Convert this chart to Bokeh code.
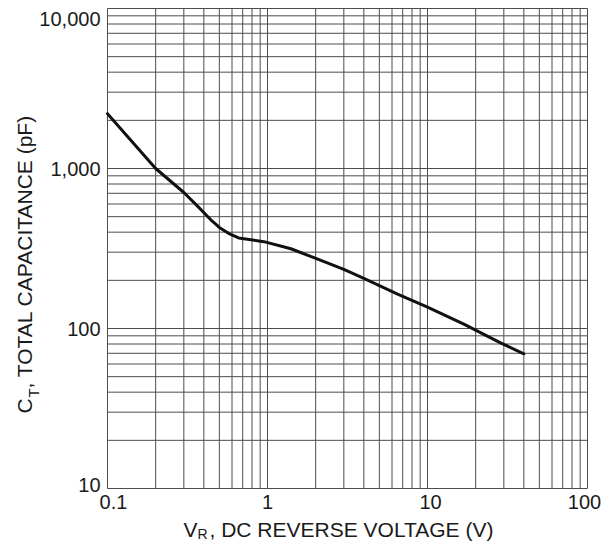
import math
from bokeh.plotting import figure
from bokeh.models import Range1d
from bokeh.core.properties import value
from bokeh.embed import file_html
from bokeh.resources import INLINE

# ---- data ----
voltage_v = [0.1, 0.2, 0.3, 0.364, 0.45, 0.5, 0.58, 0.66, 0.95, 1.4, 1.95, 3.0, 4.0, 6.5, 10, 17, 28.6, 40]
capacitance_pf = [2200, 1000, 708, 584, 470, 428, 390, 368, 349, 315, 277, 234, 206, 164, 136, 106, 81.4, 69.5]

x_tick_values = [0.1, 1, 10, 100]
x_tick_labels = ["0.1", "1", "10", "100"]
y_tick_values = [10, 100, 1000, 10000]
y_tick_labels = ["10", "100", "1,000", "10,000"]
minor_mantissas = [1, 2, 3, 4, 5, 6, 7, 8, 9]

FONT = value("Liberation Sans")
TXT = "#1a1a1a"
GRID = "#4d4d4d"

# ---- layout (pixels) ----
W, H = 614, 543
LEFT, RIGHT, TOP, BOTTOM = 107, 587, 8, 488          # chart box inside the canvas
x_lo, x_hi = x_tick_values[0], x_tick_values[-1]
y_lo, y_hi = y_tick_values[0], y_tick_values[-1]
ppd_x = (RIGHT - LEFT) / math.log10(x_hi / x_lo)      # pixels per decade
ppd_y = (BOTTOM - TOP) / math.log10(y_hi / y_lo)

x_range = Range1d(x_lo * 10 ** (-LEFT / ppd_x), x_hi * 10 ** ((W - RIGHT) / ppd_x))
y_range = Range1d(y_lo * 10 ** (-(H - BOTTOM) / ppd_y), y_hi * 10 ** (TOP / ppd_y))

p = figure(
    x_axis_type="log", y_axis_type="log",
    x_range=x_range, y_range=y_range,
    width=W, height=H, min_border=0,
    output_backend="svg", toolbar_location=None,
    background_fill_color="white", border_fill_color="white",
)
p.outline_line_color = None
p.xaxis.visible = False
p.yaxis.visible = False
p.grid.visible = False

# ---- grid lines (including the box edges) ----
grid_x = [d * m for d in x_tick_values[:-1] for m in minor_mantissas] + [x_hi]
grid_y = [d * m for d in y_tick_values[:-1] for m in minor_mantissas] + [y_hi]
p.segment(x0=grid_x, y0=[y_lo] * len(grid_x), x1=grid_x, y1=[y_hi] * len(grid_x),
          line_color=GRID, line_width=1)
p.segment(x0=[x_lo] * len(grid_y), y0=grid_y, x1=[x_hi] * len(grid_y), y1=grid_y,
          line_color=GRID, line_width=1)

# ---- curve ----
p.line(voltage_v, capacitance_pf, line_width=3, line_color="#111111",
       line_join="round", line_cap="round")

# ---- x tick labels ----
p.text(x=x_tick_values, y=[y_lo] * len(x_tick_values), text=x_tick_labels,
       x_offset=[6, 0, 3, -3], y_offset=6,
       text_align="center", text_baseline="top",
       text_font=FONT, text_font_size="20px", text_color=TXT)

# ---- y tick labels ----
p.text(x=[x_lo] * len(y_tick_values), y=y_tick_values, text=y_tick_labels,
       x_offset=-7, y_offset=[-4, 0, 0, 10],
       text_align="right", text_baseline="middle",
       text_font=FONT, text_font_size="20px", text_color=TXT)

# ---- x title: V_R, DC REVERSE VOLTAGE (V) ----
p.text(x=[x_lo], y=[y_lo], text=["V"], x_offset=76, y_offset=41,
       text_align="left", text_baseline="alphabetic",
       text_font=FONT, text_font_size="21px", text_color=TXT)
p.text(x=[x_lo], y=[y_lo], text=["R"], x_offset=90, y_offset=45,
       text_align="left", text_baseline="alphabetic",
       text_font=FONT, text_font_size="14px", text_color=TXT)
p.text(x=[x_lo], y=[y_lo], text=[", DC REVERSE VOLTAGE (V)"], x_offset=102, y_offset=41,
       text_align="left", text_baseline="alphabetic",
       text_font=FONT, text_font_size="21px", text_color=TXT)

# ---- y title: C_T, TOTAL CAPACITANCE (pF) ----
ang = math.pi / 2
p.text(x=[x_lo], y=[y_lo], text=["C"], x_offset=-83, y_offset=-75, angle=ang,
       text_align="left", text_baseline="alphabetic",
       text_font=FONT, text_font_size="21px", text_color=TXT)
p.text(x=[x_lo], y=[y_lo], text=["T"], x_offset=-74, y_offset=-91, angle=ang,
       text_align="left", text_baseline="alphabetic",
       text_font=FONT, text_font_size="15px", text_color=TXT)
p.text(x=[x_lo], y=[y_lo], text=[", TOTAL CAPACITANCE (pF)"], x_offset=-83, y_offset=-100, angle=ang,
       text_align="left", text_baseline="alphabetic",
       text_font=FONT, text_font_size="21px", text_color=TXT)

open("out.html", "w").write(file_html(p, INLINE))
